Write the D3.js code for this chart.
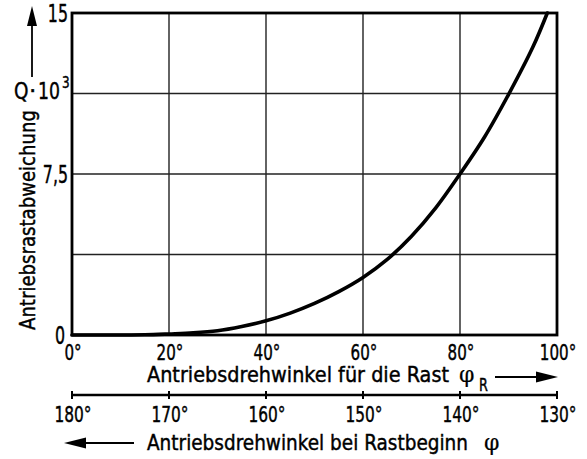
<!DOCTYPE html>
<html><head><meta charset="utf-8">
<script src="https://cdn.jsdelivr.net/npm/d3@7"></script>
<style>
html,body{margin:0;padding:0;background:#fff;}
svg text{font-family:"DejaVu Sans",sans-serif;fill:#000;stroke:#000;stroke-width:0.45px;}
</style></head>
<body><svg id="c" width="587" height="459"></svg>
<script>
// Data
const phiR = [0, 10, 15, 20, 25, 30, 35, 40, 45, 50, 55, 60, 65, 70, 75, 80, 85, 90, 95, 98];
const qValues = [0, 0, 0.01, 0.05, 0.1, 0.2, 0.4, 0.66, 1.02, 1.47, 2.02, 2.68, 3.52, 4.6, 5.92, 7.5, 9.2, 11.2, 13.4, 15];
const xTicks = [0, 20, 40, 60, 80, 100];
const yGrid = [3.75, 7.5, 11.25];
const yTickVals = [0, 7.5, 15];
const yTickLabels = ["0", "7,5", "15"];
const phiTicks = [180, 170, 160, 150, 140, 130];

const svg = d3.select("#c");
const L = 72, R = 557, T = 13, B = 335;
const x = d3.scaleLinear().domain([0, 100]).range([L, R]);
const y = d3.scaleLinear().domain([0, 15]).range([B, T]);
const x2 = d3.scaleLinear().domain([180, 130]).range([L, R]);

function condense(sel, f) {
  sel.each(function () {
    const len = this.getComputedTextLength();
    this.setAttribute("textLength", len * f);
    this.setAttribute("lengthAdjust", "spacingAndGlyphs");
  });
}

// grid
svg.append("g").selectAll("line").data(xTicks.slice(1, -1)).join("line")
  .attr("x1", d => x(d)).attr("x2", d => x(d)).attr("y1", T).attr("y2", B)
  .attr("stroke", "#222").attr("stroke-width", 1.4);
svg.append("g").selectAll("line").data(yGrid).join("line")
  .attr("x1", L).attr("x2", R).attr("y1", d => y(d)).attr("y2", d => y(d))
  .attr("stroke", "#222").attr("stroke-width", 1.4);

// curve
const line = d3.line().x((d, i) => x(phiR[i])).y((d) => y(d)).curve(d3.curveCatmullRom.alpha(0.5));
svg.append("path").datum(qValues).attr("d", line)
  .attr("fill", "none").attr("stroke", "#000").attr("stroke-width", 3.6)
  .attr("stroke-linecap", "round");

// frame
svg.append("rect").attr("x", L).attr("y", T).attr("width", R - L).attr("height", B - T)
  .attr("fill", "none").attr("stroke", "#000").attr("stroke-width", 2.8);

// y tick labels
const yl = svg.append("g").selectAll("text").data(yTickVals).join("text")
  .attr("x", (d, i) => i === 0 ? 65 : 68)
  .attr("y", d => y(d) + 9)
  .attr("text-anchor", "end").attr("font-size", 24)
  .text((d, i) => yTickLabels[i]);
condense(yl, 0.66);

// x tick labels (top)
const xl = svg.append("g").selectAll("text").data(xTicks).join("text")
  .attr("x", d => x(d) + 1).attr("y", 360)
  .attr("text-anchor", "middle").attr("font-size", 21)
  .text(d => d + "°");
condense(xl, 0.72);

// title 1
svg.append("text").attr("x", 147).attr("y", 382).attr("font-size", 21.5)
  .attr("textLength", 302).attr("lengthAdjust", "spacingAndGlyphs")
  .text("Antriebsdrehwinkel für die Rast");
svg.append("text").attr("x", 459).attr("y", 382).attr("font-size", 22)
  .style("font-family", "DejaVu Serif").style("stroke-width", "0.2px").text("φ");
const rsub = svg.append("text").attr("x", 479).attr("y", 391).attr("font-size", 17).text("R");
condense(rsub, 0.75);
svg.append("line").attr("x1", 495).attr("x2", 540).attr("y1", 377).attr("y2", 377)
  .attr("stroke", "#000").attr("stroke-width", 1.8);
svg.append("path").attr("d", "M558,377 L536,371.5 L536,382.5 Z").attr("fill", "#000");

// second axis
svg.append("line").attr("x1", x2(180)).attr("x2", x2(130)).attr("y1", 395).attr("y2", 395)
  .attr("stroke", "#000").attr("stroke-width", 2.6);
svg.append("g").selectAll("line").data(phiTicks).join("line")
  .attr("x1", d => x2(d)).attr("x2", d => x2(d)).attr("y1", 391).attr("y2", 399)
  .attr("stroke", "#000").attr("stroke-width", 2);
const pl = svg.append("g").selectAll("text").data(phiTicks).join("text")
  .attr("x", d => x2(d) + 1).attr("y", 422)
  .attr("text-anchor", "middle").attr("font-size", 22)
  .text(d => d + "°");
condense(pl, 0.7);

// title 2
svg.append("text").attr("x", 147).attr("y", 450).attr("font-size", 21.5)
  .attr("textLength", 321).attr("lengthAdjust", "spacingAndGlyphs")
  .text("Antriebsdrehwinkel bei Rastbeginn");
svg.append("text").attr("x", 484).attr("y", 450).attr("font-size", 22)
  .style("font-family", "DejaVu Serif").style("stroke-width", "0.2px").text("φ");
svg.append("line").attr("x1", 82).attr("x2", 134).attr("y1", 443).attr("y2", 443)
  .attr("stroke", "#000").attr("stroke-width", 1.8);
svg.append("path").attr("d", "M64,443 L86,437.5 L86,448.5 Z").attr("fill", "#000");

// y axis label
svg.append("text").attr("transform", "translate(35,330) rotate(-90)")
  .attr("font-size", 21.5).attr("textLength", 220).attr("lengthAdjust", "spacingAndGlyphs")
  .text("Antriebsrastabweichung");

// Q·10^3
const qq = svg.append("text").attr("x", 14).attr("y", 99).attr("font-size", 23).text("Q");
condense(qq, 0.8);
svg.append("text").attr("x", 29).attr("y", 99).attr("font-size", 23).text("·");
const ten = svg.append("text").attr("x", 38).attr("y", 99).attr("font-size", 23).text("10");
condense(ten, 0.75);
const three = svg.append("text").attr("x", 62).attr("y", 88).attr("font-size", 15).text("3");
condense(three, 0.8);

// up arrow
svg.append("line").attr("x1", 32).attr("x2", 32).attr("y1", 77).attr("y2", 22)
  .attr("stroke", "#000").attr("stroke-width", 1.8);
svg.append("path").attr("d", "M32,6 L27,26 L37,26 Z").attr("fill", "#000");
</script></body></html>
